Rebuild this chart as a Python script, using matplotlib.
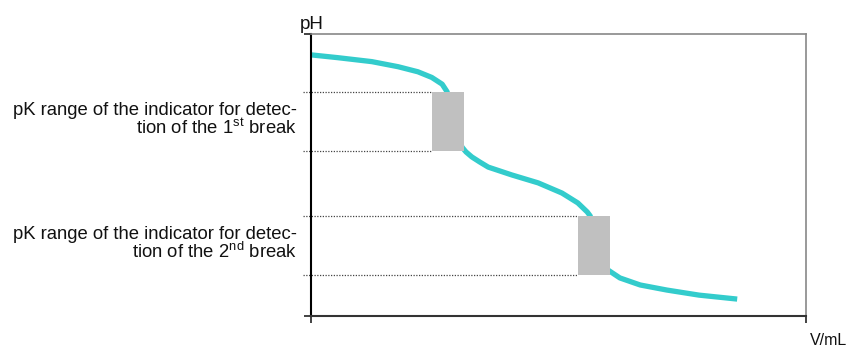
import matplotlib
matplotlib.use("Agg")
import matplotlib.pyplot as plt
from matplotlib.patches import Rectangle

plt.rcParams['font.family'] = ['Liberation Sans', 'DejaVu Sans']
plt.rcParams['mathtext.fontset'] = 'custom'
plt.rcParams['mathtext.rm'] = 'Liberation Sans'
plt.rcParams['mathtext.it'] = 'Liberation Sans'

# Titration curve (arbitrary units: V in 0..100, pH in 0..100)
volume = [0, 5.45, 12.3, 17.6, 21.6, 24.4, 26.5, 27.5, 28.5, 30.5, 31.3, 32.5, 34.1,
          35.8, 40.6, 45.9, 50.7, 53.9, 55.8, 56.4, 57.8, 60.0, 62.4, 66.5, 71.9,
          78.4, 86.1]
ph = [92.6, 91.6, 90.2, 88.4, 86.6, 84.6, 82.2, 79.5, 69.5, 59.9, 58.2, 56.4, 54.6,
      52.8, 50.0, 47.2, 43.6, 40.1, 36.9, 35.5, 25.9, 16.3, 13.5, 11.0, 9.2,
      7.4, 6.0]

# Indicator ranges
box_x0 = [24.4, 53.9]
box_x1 = [30.9, 60.4]
pk_low = [58.4, 14.5]
pk_high = [79.4, 35.5]
dotted_x0 = -1.6

label_line1 = ["pK range of the indicator for detec-",
               "pK range of the indicator for detec-"]
label_line2 = ["tion of the 1$^{\\mathrm{st}}$ break",
               "tion of the 2$^{\\mathrm{nd}}$ break"]

fig = plt.figure(figsize=(8.48, 3.47), dpi=100)
ax = fig.add_axes([311/848, (347-316)/347, (806-311)/848, (316-34)/347])
ax.set_xlim(0, 100)
ax.set_ylim(0, 100)

ax.plot(volume, ph, color='#33CCCC', lw=3.8, solid_capstyle='butt',
        solid_joinstyle='round', zorder=2, clip_on=False)

for x0, x1, lo, hi in zip(box_x0, box_x1, pk_low, pk_high):
    ax.add_patch(Rectangle((x0, lo), x1 - x0, hi - lo, facecolor='#C0C0C0',
                           edgecolor='none', zorder=3))
    for yy in (lo, hi):
        ax.plot([dotted_x0, x0], [yy, yy], color='#444444', lw=0.9,
                linestyle=(0, (1, 1.2)), zorder=1, clip_on=False)

for i in range(2):
    ax.annotate(label_line1[i], xy=(-2.8, pk_high[i]), xytext=(0, -23),
                textcoords='offset pixels', ha='right', va='baseline',
                fontsize=13.3, color='#111111', annotation_clip=False)
    ax.annotate(label_line2[i], xy=(-2.8, pk_high[i]), xytext=(0, -42),
                textcoords='offset pixels', ha='right', va='baseline',
                fontsize=13.3, color='#111111', annotation_clip=False)

ax.spines['left'].set_color('black')
ax.spines['left'].set_linewidth(1.5)
ax.spines['bottom'].set_color('#333333')
ax.spines['bottom'].set_linewidth(1.5)
ax.spines['top'].set_color('#888888')
ax.spines['top'].set_linewidth(1.2)
ax.spines['right'].set_color('#888888')
ax.spines['right'].set_linewidth(1.2)

ax.set_xticks([0, 100])
ax.set_yticks([0, 100])
ax.set_xticklabels([])
ax.set_yticklabels([])
ax.tick_params(axis='both', direction='out', length=5, width=1.2, color='#222222')

ax.text(-2.3, 101.8, "pH", ha='left', va='baseline', fontsize=13.5, color='#111111')
ax.text(108.3, -10.3, "V/mL", ha='right', va='baseline', fontsize=11.5,
        color='#111111')

fig.savefig("out.png", dpi=100)
